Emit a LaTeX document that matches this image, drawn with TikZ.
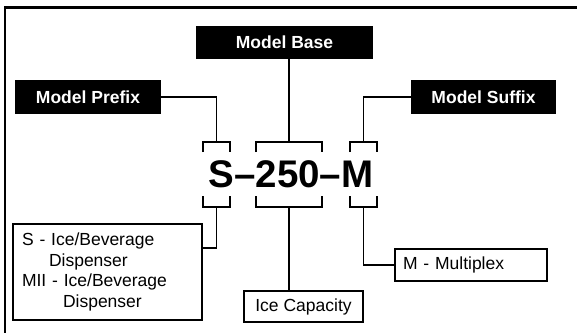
\documentclass[tikz,border=0pt]{standalone}
\usepackage{fontspec}
\setmainfont{Liberation Sans}
\usetikzlibrary{positioning, calc}

\begin{document}
\begin{tikzpicture}[x=1pt, y=-1pt,
    lbl/.style={fill=black, text=white, font=\fontsize{17.5}{20}\selectfont\bfseries, inner sep=0pt},
    info/.style={draw, line width=1.6pt, font=\fontsize{17.5}{20.5}\selectfont, inner sep=0pt},
    ln/.style={line width=1.8pt}]
    \useasboundingbox (0,0) rectangle (577,332);
    % frame
    \draw[line width=2.6pt] (5,340) |- (590,7.5);
    % heading boxes
    \node[lbl, minimum width=177pt, minimum height=33pt] (base) at (284.5,42.5) {Model Base};
    \node[lbl, minimum width=146pt, minimum height=34pt] (pfx) at (88,97) {Model Prefix};
    \node[lbl, minimum width=145pt, minimum height=34pt] (sfx) at (483.5,97) {Model Suffix};
    % model number
    \node[font=\fontsize{38.5}{40}\selectfont\bfseries, anchor=base, inner sep=0pt] (code) at (291,187.5) {S\textendash250\textendash M};
    % brackets
    \foreach \n/\l/\r in {bS/203/230, b250/256/322, bM/350/377} {
        \draw[ln] (\l,152) -- (\l,142) -- (\r,142) -- (\r,152);
        \draw[ln] (\l,196) -- (\l,207) -- (\r,207) -- (\r,196);
        \coordinate (\n-t) at ({(\l+\r)/2},142);
        \coordinate (\n-b) at ({(\l+\r)/2},207);
    }
    % explanation boxes
    \node[info, minimum width=189pt, minimum height=96pt, text width=171pt, align=left] (leg) at (107.5,272)
        {S - Ice/Beverage\\\hspace*{27pt}Dispenser\\MII - Ice/Beverage\\\hspace*{41pt}Dispenser};
    \node[info, minimum width=119pt, minimum height=31pt] (cap) at (303.5,306.5) {Ice Capacity};
    \node[info, minimum width=152pt, minimum height=32pt, text width=136pt, align=left] (mpx) at (471,265) {M - Multiplex};
    % connectors
    \draw[ln] (pfx.east) -| (bS-t);
    \draw[ln] (b250-t) -- (b250-t |- base.south);
    \draw[ln] (sfx.west) -| (bM-t);
    \draw[ln] (bS-b) |- ([yshift=24pt]leg.east);
    \draw[ln] (b250-b) -- (b250-b |- cap.north);
    \draw[ln] (bM-b) |- (mpx.west);
\end{tikzpicture}
\end{document}
